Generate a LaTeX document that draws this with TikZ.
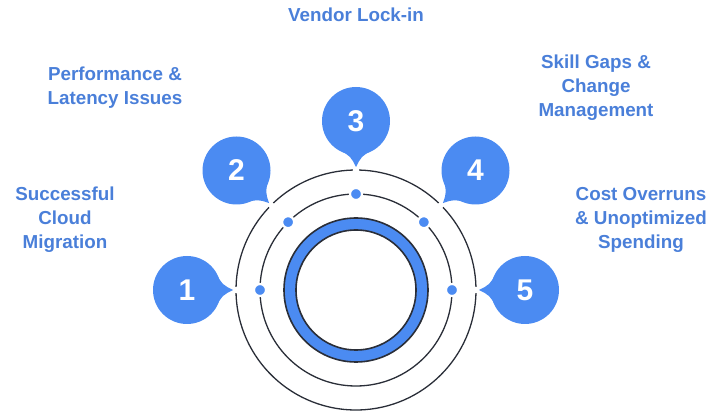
\documentclass[tikz,border=0pt]{standalone}
\usepackage{fontspec}
\setmainfont{Liberation Sans}
\usetikzlibrary{calc}
\definecolor{bub}{HTML}{4B8BF2}
\definecolor{txt}{HTML}{4A7FD9}
\definecolor{ln}{HTML}{2A2E38}
\begin{document}
\begin{tikzpicture}[x=1pt,y=1pt,
  lbl/.style={text=txt,font=\bfseries\fontsize{18.8}{24}\selectfont,align=center,inner sep=0pt},
  num/.style={text=white,font=\bfseries\fontsize{30}{32}\selectfont},
  ring/.style={draw=ln,line width=1.3pt},
  dotm/.style={circle,fill=bub,draw=white,line width=2.2pt,minimum size=12pt,inner sep=0pt}]
\useasboundingbox (0,0) rectangle (713,418);
\coordinate (C) at (356,128);
% outer circle with gaps
\foreach \a/\b in {181.5/358.5,1.5/43.5,46.5/88.5,91.5/133.5,136.5/178.5}
  \draw[ring] ($(C)+(\a:120)$) arc[start angle=\a,end angle=\b,radius=120pt];
% middle circle
\draw[ring] (C) circle[radius=96pt];
% inner blue ring
\fill[bub,even odd rule] (C) circle[radius=72pt] (C) circle[radius=60pt];
\draw[draw=ln,line width=1.6pt] (C) circle[radius=72pt];
\draw[draw=ln,line width=1.6pt] (C) circle[radius=60pt];
% dots
\foreach \t/\n in {180/1,135/2,90/3,45/4,0/5}
  \node[dotm] (d\n) at ($(C)+(\t:96)$) {};
% bubbles
\foreach \t/\n in {180/1,135/2,90/3,45/4,0/5}{
  \coordinate (b\n) at ($(C)+(\t:169)$);
  \begin{scope}[shift={(b\n)},rotate=\t+180]
    \fill[bub] (0,0) circle[radius=34pt];
    \fill[bub] (29,-16) .. controls (36,-5) .. (46,0) .. controls (36,5) .. (29,16) -- cycle;
  \end{scope}
  \node[num] (n\n) at (b\n) {\n};
}
% labels
\node[lbl] (l3) at (356,403) {Vendor Lock-in};
\node[lbl] (l2) at (115,330) {Performance \&\\Latency Issues};
\node[lbl] (l4) at (596,330) {Skill Gaps \&\\Change\\Management};
\node[lbl] (l1) at (65,198) {Successful\\Cloud\\Migration};
\node[lbl] (l5) at (641,198) {Cost Overruns\\\& Unoptimized\\Spending};
\end{tikzpicture}
\end{document}
